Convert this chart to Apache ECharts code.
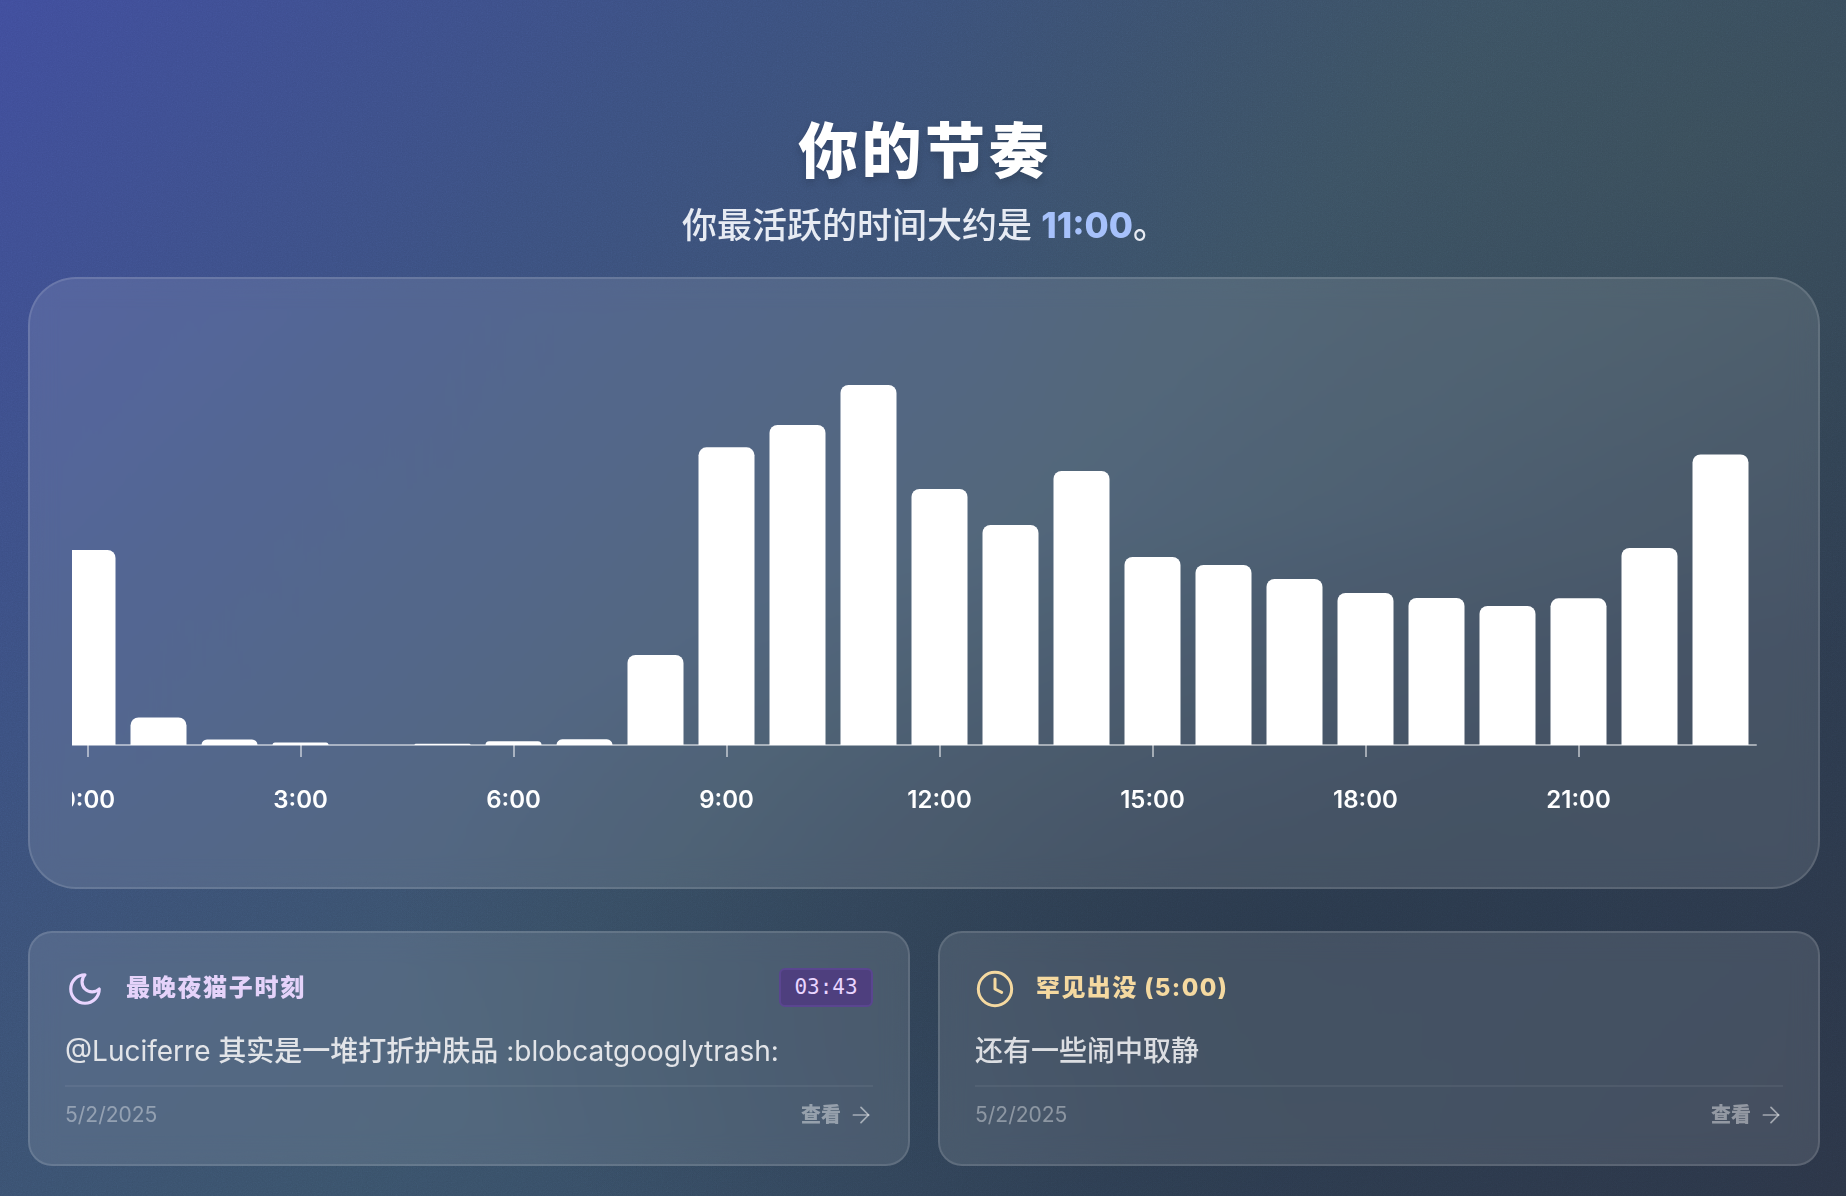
<!DOCTYPE html>
<html lang="zh-CN"><head><meta charset="utf-8"><title>你的节奏</title>
<script src="https://cdn.jsdelivr.net/npm/echarts@6/dist/echarts.min.js"></script>
<style>
html,body{margin:0;padding:0;width:1846px;height:1196px;overflow:hidden;background:#2d3a4c}
body{font-family:Inter,"Noto Sans CJK SC",sans-serif;color:#fff;position:relative}
#bg{position:absolute;inset:0;background:
 radial-gradient(ellipse 900px 420px at 70% 78%,rgba(40,54,72,.7),rgba(40,54,72,0) 100%),
 radial-gradient(ellipse 800px 500px at 92% 12%,rgba(62,82,88,.55),rgba(62,82,88,0) 100%),
 radial-gradient(ellipse 900px 500px at 22% 100%,rgba(58,84,112,.45),rgba(58,84,112,0) 100%),
 linear-gradient(135deg,#404d9c 0%,#3b5080 24%,#3a5167 50%,#2e3e52 75%,#2c3547 100%)}
#noise{position:absolute;inset:0;opacity:.16;mix-blend-mode:overlay;background-image:url("data:image/svg+xml,%3Csvg xmlns='http://www.w3.org/2000/svg' width='300' height='300'%3E%3Cfilter id='n'%3E%3CfeTurbulence type='fractalNoise' baseFrequency='.8' numOctaves='3' stitchTiles='stitch'/%3E%3CfeColorMatrix type='saturate' values='0'/%3E%3C/filter%3E%3Crect width='300' height='300' filter='url(%23n)'/%3E%3C/svg%3E")}
.abs{position:absolute;white-space:nowrap}
.center{left:0;width:1848px;text-align:center}
.card{position:absolute;box-sizing:border-box;background:rgba(255,255,255,.115);border:2px solid rgba(255,255,255,.12);backdrop-filter:blur(14px)}
.t{transform:translateY(-50%);line-height:1}
svg.ic{position:absolute;fill:none;stroke-linecap:round;stroke-linejoin:round}
.hr{position:absolute;height:2px;background:rgba(255,255,255,.06)}
.m{font-weight:500}
</style></head><body>
<div id="bg"></div><div id="noise"></div>
<div class="abs center t" style="top:151px;left:1px;font-size:60px;font-weight:900;letter-spacing:3.4px;text-shadow:0 4px 8px rgba(0,0,0,.16)">你的节奏</div>
<div class="abs center t" style="top:225px;left:1px;font-size:35px;font-weight:500;color:#e7ebf3">你最活跃的时间大约是 <b style="color:#a6c1fb;font-weight:800">11:00</b>。</div>

<div class="card" style="left:28px;top:277px;width:1792px;height:612px;border-radius:48px"></div>
<div id="chart" style="position:absolute;left:72px;top:300px;width:1700px;height:570px"></div>

<div class="card" style="left:28px;top:931px;width:882px;height:235px;border-radius:24px"></div>
<div class="card" style="left:938px;top:931px;width:882px;height:235px;border-radius:24px"></div>

<svg class="ic" style="left:66px;top:970px;stroke:#e9d5ff" width="38" height="38" viewBox="0 0 24 24" stroke-width="2"><path d="M12 3a6 6 0 0 0 9 9 9 9 0 1 1-9-9Z"/></svg>
<div class="abs t" style="left:126px;top:988px;font-size:24px;font-weight:800;letter-spacing:1.7px;color:#e5d3fa">最晚夜猫子时刻</div>
<div class="abs" style="left:779px;top:968px;width:94px;height:39px;box-sizing:border-box;background:#4e3f7e;border:2px solid #5a4590;border-radius:6px;text-align:center;font:21px/35px 'DejaVu Sans Mono',monospace;color:#e9d5ff">03:43</div>
<div class="abs t" style="left:65px;top:1051px;font-size:28px;color:#e2e4e8">@Luciferre <span class="m">其实是一堆打折护肤品</span> :blobcatgooglytrash:</div>
<div class="hr" style="left:65px;top:1085px;width:808px"></div>
<div class="abs t" style="left:65px;top:1114px;font-size:21px;color:rgba(255,255,255,.38)">5/2/2025</div>
<div class="abs t" style="left:801px;top:1115px;font-size:20px;font-weight:800;color:rgba(255,255,255,.42)">查看</div>
<svg class="ic" style="left:848px;top:1102px;stroke:rgba(255,255,255,.5)" width="26" height="26" viewBox="0 0 24 24" stroke-width="1.6"><path d="M5 12h14"/><path d="m12 5 7 7-7 7"/></svg>

<svg class="ic" style="left:975px;top:969px;stroke:#f5d9a0" width="40" height="40" viewBox="0 0 24 24" stroke-width="1.8"><circle cx="12" cy="12" r="10"/><polyline points="12 6 12 12 16 14"/></svg>
<div class="abs t" style="left:1036px;top:988px;font-size:24px;font-weight:800;letter-spacing:1.4px;color:#f5d9a0">罕见出没 (5:00)</div>
<div class="abs t" style="left:975px;top:1051px;font-size:28px;font-weight:500;color:#dcdee2">还有一些闹中取静</div>
<div class="hr" style="left:975px;top:1085px;width:808px"></div>
<div class="abs t" style="left:975px;top:1114px;font-size:21px;color:rgba(255,255,255,.38)">5/2/2025</div>
<div class="abs t" style="left:1711px;top:1115px;font-size:20px;font-weight:800;color:rgba(255,255,255,.42)">查看</div>
<svg class="ic" style="left:1758px;top:1102px;stroke:rgba(255,255,255,.5)" width="26" height="26" viewBox="0 0 24 24" stroke-width="1.6"><path d="M5 12h14"/><path d="m12 5 7 7-7 7"/></svg>

<script>
const hourLabels = ["0:00","1:00","2:00","3:00","4:00","5:00","6:00","7:00","8:00","9:00","10:00","11:00","12:00","13:00","14:00","15:00","16:00","17:00","18:00","19:00","20:00","21:00","22:00","23:00"];
const activity = [195,27.5,5.5,2.5,0,1.3,3.7,5.7,90,297.7,320,360,256,220,274,188,180,166,152,147,139,146.7,197,290.6];
const axisMax = 360;

const chart = echarts.init(document.getElementById('chart'), null, {renderer:'canvas'});
chart.setOption({
  animation:false,
  grid:{left:-20,top:85,width:1704,height:360,containLabel:false,outerBoundsMode:'none'},
  xAxis:{type:'category',data:hourLabels,boundaryGap:true,
    axisLine:{show:true,lineStyle:{color:'rgba(255,255,255,.5)',width:2}},
    axisTick:{show:true,alignWithLabel:true,interval:2,length:12,lineStyle:{color:'rgba(255,255,255,.5)',width:2}},
    axisLabel:{interval:2,color:'#fff',fontFamily:'Inter',fontWeight:600,fontSize:24,margin:44,hideOverlap:false},
    splitLine:{show:false}},
  yAxis:{type:'value',min:0,max:axisMax,show:false},
  series:[{type:'bar',data:activity,barWidth:56,itemStyle:{color:'#fff',borderRadius:[8,8,0,0]}}]
});
</script>
</body></html>
